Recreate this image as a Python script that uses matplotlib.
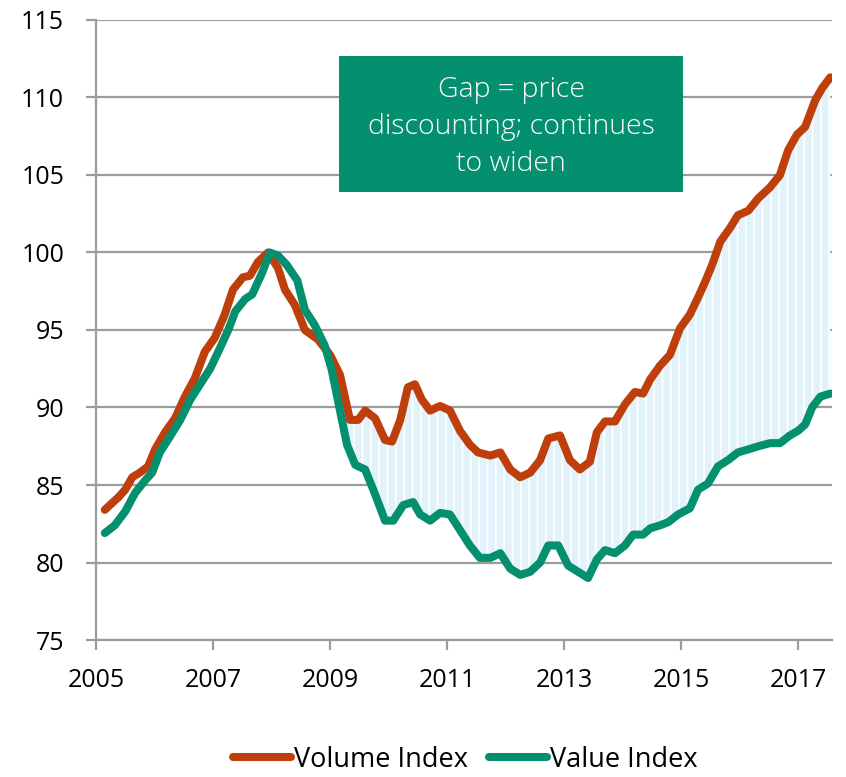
import numpy as np
import matplotlib
matplotlib.use('Agg')
import matplotlib.pyplot as plt
from matplotlib.patches import Rectangle

plt.rcParams['font.family'] = ['Open Sans', 'DejaVu Sans']
plt.rcParams['hatch.linewidth'] = 1.2

# data (decimal years)
vol_years = [2005.15, 2005.38, 2005.50, 2005.62, 2005.75, 2005.89, 2006.01, 2006.18, 2006.35, 2006.52,
             2006.69, 2006.86, 2007.03, 2007.20, 2007.34, 2007.51, 2007.63, 2007.77, 2007.94, 2008.11,
             2008.23, 2008.40, 2008.57, 2008.79, 2009.00, 2009.17, 2009.34, 2009.48, 2009.60, 2009.77,
             2009.94, 2010.06, 2010.20, 2010.33, 2010.45, 2010.57, 2010.71, 2010.88, 2011.05, 2011.22,
             2011.39, 2011.53, 2011.74, 2011.91, 2012.08, 2012.25, 2012.42, 2012.59, 2012.73, 2012.93,
             2013.10, 2013.27, 2013.44, 2013.56, 2013.70, 2013.87, 2014.04, 2014.21, 2014.35, 2014.47,
             2014.64, 2014.81, 2014.98, 2015.15, 2015.29, 2015.41, 2015.53, 2015.67, 2015.84, 2015.97,
             2016.15, 2016.32, 2016.52, 2016.69, 2016.83, 2016.98, 2017.12, 2017.29, 2017.41, 2017.55]
volume = [83.4, 84.2, 84.7, 85.5, 85.8, 86.2, 87.3, 88.4, 89.3, 90.7,
          91.9, 93.6, 94.5, 96.0, 97.6, 98.4, 98.5, 99.4, 100.0, 99.0,
          97.6, 96.6, 95.0, 94.4, 93.4, 92.1, 89.2, 89.2, 89.8, 89.3,
          87.9, 87.8, 89.2, 91.3, 91.5, 90.5, 89.8, 90.1, 89.8, 88.5,
          87.6, 87.1, 86.9, 87.1, 86.0, 85.5, 85.8, 86.6, 88.0, 88.2,
          86.6, 86.0, 86.5, 88.4, 89.1, 89.1, 90.2, 91.0, 90.9, 91.8,
          92.7, 93.4, 95.1, 96.0, 97.1, 98.1, 99.2, 100.7, 101.6, 102.4,
          102.7, 103.5, 104.2, 105.0, 106.6, 107.6, 108.1, 109.8, 110.6, 111.3]

val_years = [2005.15, 2005.32, 2005.50, 2005.67, 2005.84, 2005.96, 2006.09, 2006.26, 2006.44, 2006.61,
             2006.78, 2006.95, 2007.09, 2007.26, 2007.38, 2007.55, 2007.67, 2007.84, 2007.97, 2008.11,
             2008.26, 2008.44, 2008.57, 2008.74, 2008.91, 2009.03, 2009.17, 2009.29, 2009.43, 2009.60,
             2009.77, 2009.94, 2010.08, 2010.25, 2010.42, 2010.54, 2010.71, 2010.88, 2011.05, 2011.22,
             2011.39, 2011.56, 2011.74, 2011.91, 2012.08, 2012.25, 2012.42, 2012.59, 2012.73, 2012.90,
             2013.07, 2013.24, 2013.41, 2013.56, 2013.70, 2013.87, 2014.04, 2014.18, 2014.35, 2014.47,
             2014.64, 2014.78, 2014.95, 2015.15, 2015.29, 2015.46, 2015.63, 2015.80, 2015.97, 2016.15,
             2016.32, 2016.52, 2016.69, 2016.86, 2017.00, 2017.12, 2017.24, 2017.38, 2017.55]
value = [81.9, 82.4, 83.3, 84.5, 85.3, 85.8, 87.1, 88.1, 89.2, 90.5,
         91.5, 92.5, 93.6, 95.0, 96.2, 97.0, 97.3, 98.7, 100.0, 99.8,
         99.2, 98.2, 96.3, 95.3, 94.0, 92.4, 89.8, 87.6, 86.3, 86.0,
         84.4, 82.7, 82.7, 83.7, 83.9, 83.1, 82.7, 83.2, 83.1, 82.1,
         81.1, 80.3, 80.3, 80.6, 79.6, 79.2, 79.4, 80.0, 81.1, 81.1,
         79.8, 79.4, 79.0, 80.2, 80.8, 80.6, 81.1, 81.8, 81.8, 82.2,
         82.4, 82.6, 83.1, 83.5, 84.7, 85.1, 86.2, 86.6, 87.1, 87.3,
         87.5, 87.7, 87.7, 88.2, 88.5, 88.9, 90.0, 90.7, 90.9]

x_ticks = [2005, 2007, 2009, 2011, 2013, 2015, 2017]
y_ticks = [75, 80, 85, 90, 95, 100, 105, 110, 115]
note = 'Gap = price\ndiscounting; continues\nto widen'

orange = '#BE3F0C'
green = '#048F6E'
grid_grey = '#9C9C9C'

fig = plt.figure(figsize=(8.46, 7.77), dpi=100)
ax = fig.add_axes([0.1135, 0.1763, 0.870, 0.798])

# shaded gap (only where volume sits above value, after 2009)
vx = np.array(vol_years); vy = np.array(volume)
gx = np.array(val_years); gy = np.array(value)
mv = vx >= 2009.17
mg = gx >= 2009.17
poly_x = np.concatenate([vx[mv], gx[mg][::-1]])
poly_y = np.concatenate([vy[mv], gy[mg][::-1]])
ax.fill(poly_x, poly_y, facecolor='#E2F2FB', edgecolor='white', hatch='||', linewidth=0, zorder=1)

ax.plot(vol_years, volume, color=orange, lw=5.8, solid_capstyle='round', solid_joinstyle='round',
        zorder=3, label='Volume Index')
ax.plot(val_years, value, color=green, lw=5.8, solid_capstyle='round', solid_joinstyle='round',
        zorder=4, label='Value Index')

ax.set_xlim(2005, 2017.58)
ax.set_ylim(75, 115)
ax.set_xticks(x_ticks)
ax.set_yticks(y_ticks)
ax.yaxis.grid(True, color=grid_grey, lw=1.6)
ax.set_axisbelow(True)
for s in ['top', 'right']:
    ax.spines[s].set_visible(False)
for s in ['left', 'bottom']:
    ax.spines[s].set_color(grid_grey)
    ax.spines[s].set_linewidth(1.6)
ax.tick_params(axis='both', direction='out', length=7, width=1.6, color=grid_grey,
               labelsize=18)
ax.tick_params(axis='x', pad=13)
ax.tick_params(axis='y', pad=16)

# annotation box
ax.add_patch(Rectangle((0.3302, 0.7226), 0.4674, 0.2194, transform=ax.transAxes,
                       facecolor=green, edgecolor='none', zorder=6))
ax.text(0.5639, 0.827, note, transform=ax.transAxes, ha='center', va='center', fontsize=20.5,
        fontweight='light', color='white', linespacing=1.42, zorder=7)

fig.legend(loc='center', bbox_to_anchor=(0.55, 0.022), ncol=2, frameon=False, fontsize=19.5,
           handlelength=2.15, handletextpad=0.1, columnspacing=0.78)

fig.savefig('out.png', dpi=100)
